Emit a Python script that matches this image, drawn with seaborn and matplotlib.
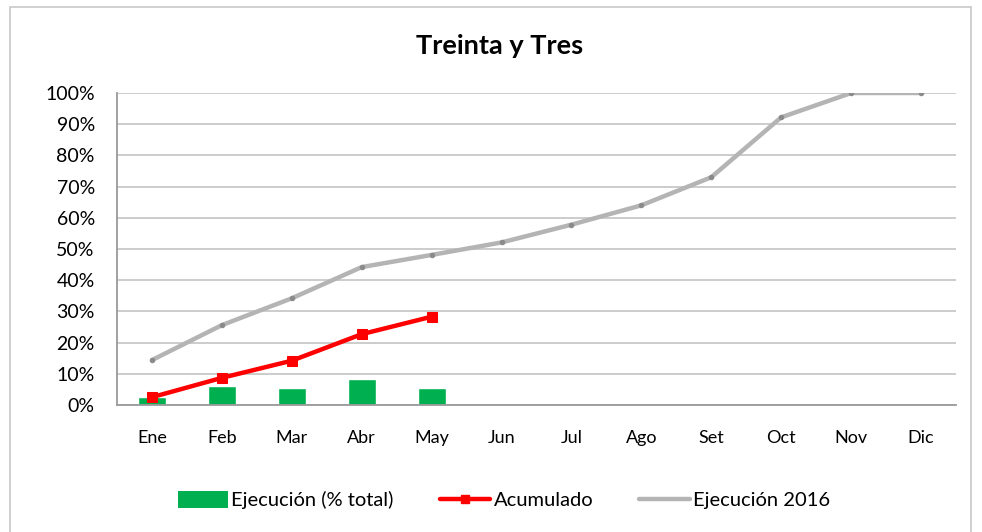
import matplotlib
matplotlib.use("Agg")
import matplotlib.pyplot as plt
import seaborn as sns
import numpy as np
import pandas as pd
from matplotlib.patches import Rectangle, Patch
from matplotlib.lines import Line2D
from matplotlib.ticker import PercentFormatter

months = ["Ene", "Feb", "Mar", "Abr", "May", "Jun", "Jul", "Ago", "Set", "Oct", "Nov", "Dic"]
ejec_total = [2.6, 6.2, 5.5, 8.3, 5.5]           # % per month (bars)
acumulado = [2.5, 8.7, 14.2, 22.7, 28.3]         # cumulative %
ejec_2016 = [14.4, 25.6, 34.2, 44.2, 48.1, 52.1, 57.8, 64.0, 73.0, 92.2, 100.0, 100.0]
title = "Treinta y Tres"
yticks = [0, 10, 20, 30, 40, 50, 60, 70, 80, 90, 100]

sns.set_theme(style="white")
plt.rcParams['font.family'] = ['Lato', 'DejaVu Sans']
plt.rcParams['text.color'] = 'black'

fig = plt.figure(figsize=(9.82, 5.32), dpi=100)
ax = fig.add_axes([117/982, 1-405/532, (956-117)/982, (405-93)/532])

df_bar = pd.DataFrame({"mes": months[:len(ejec_total)], "v": ejec_total})
df_acu = pd.DataFrame({"x": np.arange(len(acumulado)), "v": acumulado})
df_16 = pd.DataFrame({"x": np.arange(len(ejec_2016)), "v": ejec_2016})

sns.barplot(data=df_bar, x="mes", y="v", order=months, color="#00B050",
            width=0.4, saturation=1, ax=ax, zorder=2)
sns.lineplot(data=df_16, x="x", y="v", color="#B4B4B4", linewidth=3.2,
             marker="o", markersize=3.2, markerfacecolor="#8A8A8A",
             markeredgecolor="#8A8A8A", ax=ax, zorder=3)
sns.lineplot(data=df_acu, x="x", y="v", color="#FF0000", linewidth=3.2,
             marker="s", markersize=6.5, markeredgecolor="#FF0000",
             ax=ax, zorder=4)

ax.set_xlim(-0.5, len(months) - 0.5)
ax.set_ylim(0, 100)
ax.set_yticks(yticks)
ax.yaxis.set_major_formatter(PercentFormatter(decimals=0))
ax.set_xticks(np.arange(len(months)))
ax.set_xticklabels(months)
ax.set_xlabel("")
ax.set_ylabel("")
ax.grid(axis="y", color="#BEBEBE", linewidth=1.1)
ax.set_axisbelow(True)
for s in ["top", "right"]:
    ax.spines[s].set_visible(False)
for s in ["left", "bottom"]:
    ax.spines[s].set_color("#9A9A9A")
    ax.spines[s].set_linewidth(1.3)
ax.tick_params(axis="y", length=0, pad=16, labelsize=14, labelcolor="black")
ax.tick_params(axis="x", length=0, pad=18, labelsize=13, labelcolor="black")

fig.text(500/982, 1-46/532, title, ha="center", va="center",
         fontsize=19.5, fontweight="bold", color="black")

handles = [
    Patch(facecolor="#00B050", edgecolor="none"),
    Line2D([], [], color="#FF0000", linewidth=3.2, marker="s", markersize=6),
    Line2D([], [], color="#B4B4B4", linewidth=3.2),
]
labels = ["Ejecución (% total)", "Acumulado", "Ejecución 2016"]
fig.legend(handles, labels, loc="center", bbox_to_anchor=(504/982, 32/532),
           ncol=3, frameon=False, fontsize=14.5, handlelength=2.5,
           handletextpad=0.15, columnspacing=2.3, handleheight=0.9,
           labelcolor="black")

fig.patches.append(Rectangle((10/982, -0.02), 961/982, 1.02 - 7/532,
                             transform=fig.transFigure, fill=False,
                             edgecolor="#C8C8C8", linewidth=1.2))

fig.savefig("out.png", dpi=100)
